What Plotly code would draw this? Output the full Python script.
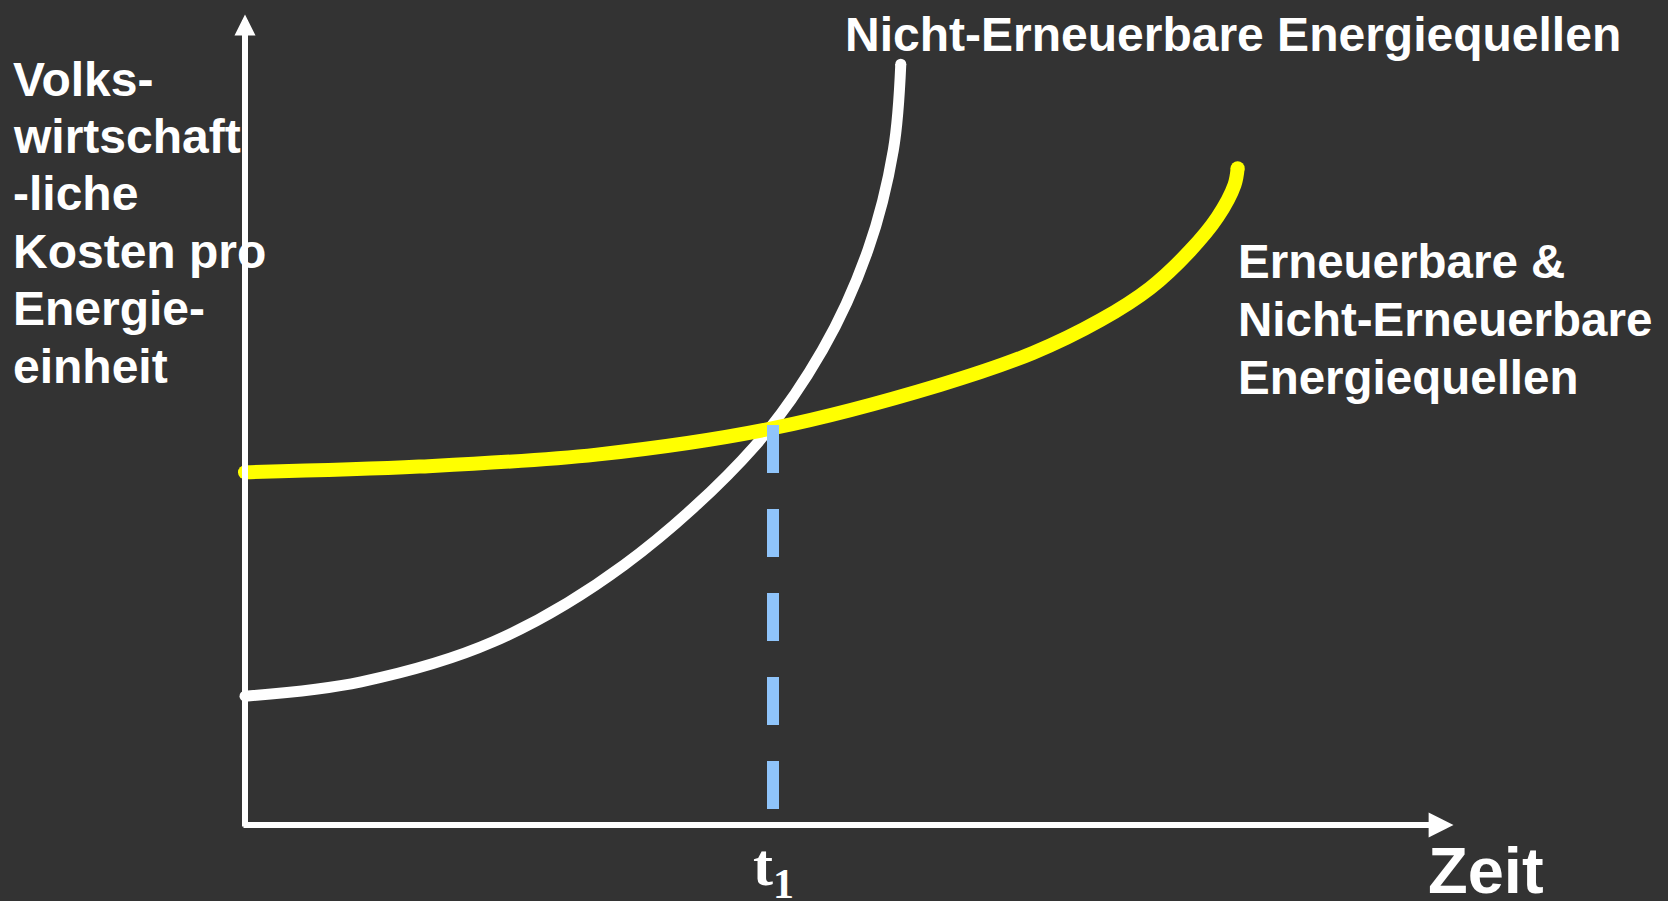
import plotly.graph_objects as go

# --- data -------------------------------------------------------------
# Time axis runs in arbitrary units; t1 is where the two cost curves cross.
T1 = 5.0

# Non-renewable energy sources: cost per energy unit over time
nonrenew_t = [0.00, 1.10, 2.35, 3.59, 4.83, 5.47, 5.90, 6.14, 6.21]
nonrenew_c = [1.61, 1.79, 2.29, 3.25, 4.74, 5.94, 7.19, 8.44, 9.51]

# Renewable & non-renewable energy sources combined
mixed_t = [0.00, 1.65, 3.33, 5.00, 6.58, 7.46, 8.10, 8.57, 8.95, 9.21, 9.37, 9.40]
mixed_c = [4.41, 4.48, 4.63, 4.96, 5.50, 5.90, 6.31, 6.71, 7.18, 7.60, 8.00, 8.21]

# marker line from the crossing point down to the time axis
t1_line_t = [T1, T1]
t1_line_c = [5.0, 0.2]

y_label_lines = ["Volks-", "wirtschaft", "-liche", "Kosten pro", "Energie-", "einheit"]
mixed_label_lines = ["Erneuerbare &", "Nicht-Erneuerbare", "Energiequellen"]
nonrenew_label = "Nicht-Erneuerbare Energiequellen"
x_label = "Zeit"

# --- layout geometry ----------------------------------------------------
W, H = 1668, 901
ORIGIN_PX = (245, 825)          # pixel position of (t=0, cost=0)
PX_PER_T = 105.6
PX_PER_C = 80.0

x_range = [-ORIGIN_PX[0] / PX_PER_T, (W - ORIGIN_PX[0]) / PX_PER_T]
y_range = [-(H - ORIGIN_PX[1]) / PX_PER_C, ORIGIN_PX[1] / PX_PER_C]

def tx(px):
    return (px - ORIGIN_PX[0]) / PX_PER_T

def cy(py):
    return (ORIGIN_PX[1] - py) / PX_PER_C

BG = "#333333"
WHITE = "#ffffff"
YELLOW = "#ffff00"
BLUE = "#8fc4fa"
SANS = "Liberation Sans, Arial, sans-serif"
SERIF = "Liberation Serif, Times New Roman, serif"

fig = go.Figure()

def add_curve(xs, ys, color, width):
    fig.add_trace(go.Scatter(
        x=xs, y=ys, mode="lines",
        line=dict(color=color, width=width, shape="spline", smoothing=1.0, simplify=False),
        hoverinfo="skip", showlegend=False))
    # round caps at both ends
    fig.add_trace(go.Scatter(
        x=[xs[0], xs[-1]], y=[ys[0], ys[-1]], mode="markers",
        marker=dict(color=color, size=width, line=dict(width=0)),
        hoverinfo="skip", showlegend=False))

add_curve(nonrenew_t, nonrenew_c, WHITE, 11)
add_curve(mixed_t, mixed_c, YELLOW, 14)

fig.add_trace(go.Scatter(
    x=t1_line_t, y=t1_line_c, mode="lines",
    line=dict(color=BLUE, width=12, dash="48px,36px"),
    hoverinfo="skip", showlegend=False))

annotations = []

# axes drawn as arrows
annotations.append(dict(
    x=0, y=cy(9 + 5.5), ax=0, ay=cy(828), xref="x", yref="y", axref="x", ayref="y",
    text="", showarrow=True, arrowhead=2, arrowsize=0.7, arrowwidth=6, arrowcolor=WHITE))
annotations.append(dict(
    x=tx(1460 - 6.5), y=0, ax=tx(242), ay=0, xref="x", yref="y", axref="x", ayref="y",
    text="", showarrow=True, arrowhead=2, arrowsize=0.83, arrowwidth=6, arrowcolor=WHITE))

# y-axis title, one line at a time
for i, line in enumerate(y_label_lines):
    annotations.append(dict(
        x=tx(11), y=cy(79 + i * 57.4), xref="x", yref="y", text=f"<b>{line}</b>",
        showarrow=False, xanchor="left", yanchor="middle",
        font=dict(family=SANS, size=48, color=WHITE)))

# curve labels
annotations.append(dict(
    x=tx(843), y=cy(34), xref="x", yref="y", text=f"<b>{nonrenew_label}</b>",
    showarrow=False, xanchor="left", yanchor="middle",
    font=dict(family=SANS, size=48, color=WHITE)))
for i, line in enumerate(mixed_label_lines):
    annotations.append(dict(
        x=tx(1236), y=cy(261 + i * 58.2), xref="x", yref="y", text=f"<b>{line}</b>",
        showarrow=False, xanchor="left", yanchor="middle",
        font=dict(family=SANS, size=47.5, color=WHITE)))

# x-axis title and t1 tick label
annotations.append(dict(
    x=tx(1426), y=cy(870), xref="x", yref="y", text=f"<b>{x_label}</b>",
    showarrow=False, xanchor="left", yanchor="middle",
    font=dict(family=SANS, size=65, color=WHITE)))
annotations.append(dict(
    x=T1, y=cy(830), xref="x", yref="y", text="<b>t<sub>1</sub></b>",
    showarrow=False, xanchor="center", yanchor="top",
    font=dict(family=SERIF, size=60, color=WHITE)))

fig.update_layout(
    width=W, height=H,
    margin=dict(l=0, r=0, t=0, b=0, pad=0),
    paper_bgcolor=BG, plot_bgcolor=BG,
    xaxis=dict(range=x_range, visible=False, fixedrange=True),
    yaxis=dict(range=y_range, visible=False, fixedrange=True),
    annotations=annotations,
    showlegend=False,
)

fig.write_html("out.html", config=dict(displayModeBar=False))
